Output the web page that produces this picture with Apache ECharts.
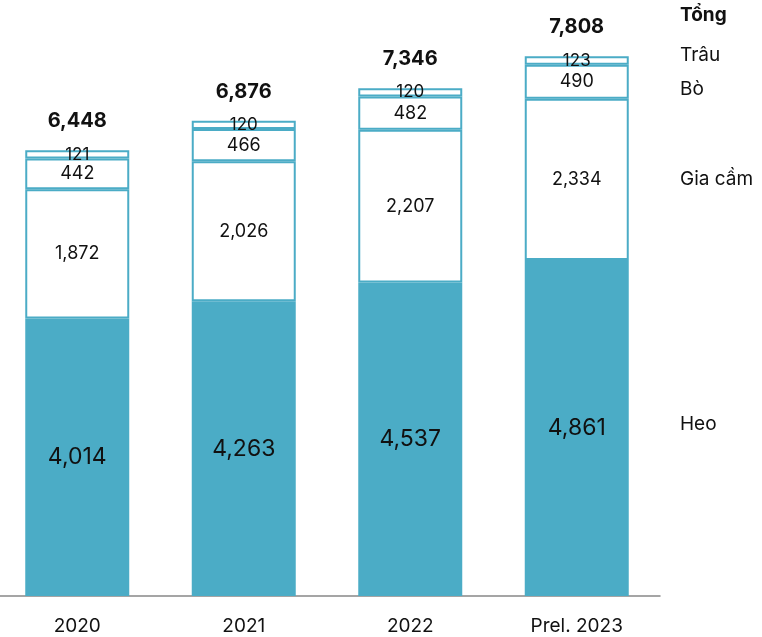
<!DOCTYPE html>
<html><head><meta charset="utf-8">
<script src="https://cdn.jsdelivr.net/npm/echarts@6/dist/echarts.min.js"></script>
<style>html,body{margin:0;padding:0;background:#fff}#c{width:762px;height:637px}</style>
</head><body><div id="c"></div>
<script>
const categories = ['2020', '2021', '2022', 'Prel. 2023'];
const heo = [4014, 4263, 4537, 4861];
const giaCam = [1872, 2026, 2207, 2334];
const bo = [442, 466, 482, 490];
const trau = [121, 120, 120, 123];
const tong = [6448, 6876, 7346, 7808];
const seriesNames = ['Tổng', 'Trâu', 'Bò', 'Gia cầm', 'Heo'];

const TEAL = '#4BACC6';
const FONT = 'Inter, "Noto Sans", sans-serif';
const fmt = v => v.toLocaleString('en-US');

const chart = echarts.init(document.getElementById('c'));
function seg(name, data, filled, size) {
  return {
    name, type: 'bar', stack: 's', data, barWidth: 104,
    itemStyle: { color: filled ? TEAL : '#fff', borderColor: TEAL, borderWidth: filled ? 0 : 2 },
    label: { show: true, position: 'inside', formatter: p => fmt(p.value), color: '#111', fontSize: size, fontFamily: FONT },
    emphasis: { disabled: true }, animation: false
  };
}
const totalSeries = {
  name: 'Tổng', type: 'bar', stack: 's', data: tong.map(() => 0), barWidth: 104,
  itemStyle: { color: 'transparent' },
  label: { show: true, position: 'top', distance: 19, formatter: p => fmt(tong[p.dataIndex]), color: '#111', fontSize: 20, fontWeight: 'bold', fontFamily: FONT },
  animation: false
};
chart.setOption({
  animation: false,
  grid: { left: -6, right: 102, top: 43, bottom: 41, outerBoundsMode: 'none' },
  xAxis: {
    type: 'category', data: categories,
    axisLine: { lineStyle: { color: '#888', width: 1.5 } }, axisTick: { show: false },
    axisLabel: { color: '#111', fontSize: 19, fontFamily: FONT, margin: 21 }
  },
  yAxis: { type: 'value', min: 0, max: 8000, show: false, splitLine: { show: false } },
  series: [
    seg('Heo', heo, true, 23),
    seg('Gia cầm', giaCam, false, 18),
    seg('Bò', bo, false, 18),
    seg('Trâu', trau, false, 17),
    totalSeries
  ],
  graphic: [
    { type: 'text', left: 680, top: 6, style: { text: seriesNames[0], font: 'bold 19px ' + FONT, fill: '#111' } },
    { type: 'text', left: 680, top: 46, style: { text: seriesNames[1], font: '19px ' + FONT, fill: '#111' } },
    { type: 'text', left: 680, top: 80, style: { text: seriesNames[2], font: '19px ' + FONT, fill: '#111' } },
    { type: 'text', left: 680, top: 170, style: { text: seriesNames[3], font: '19px ' + FONT, fill: '#111' } },
    { type: 'text', left: 680, top: 415, style: { text: seriesNames[4], font: '19px ' + FONT, fill: '#111' } }
  ]
});
</script></body></html>
